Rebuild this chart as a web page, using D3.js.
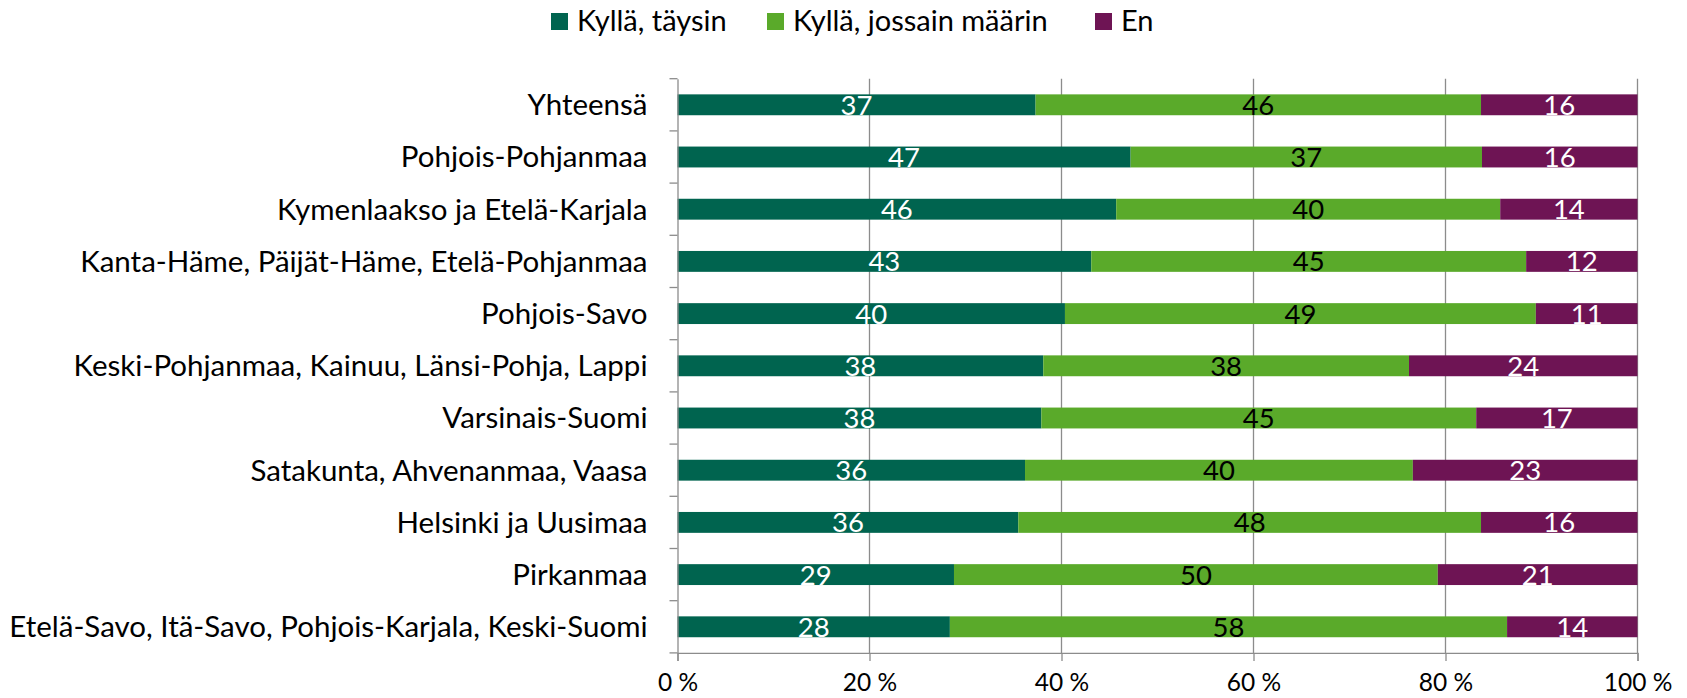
<!DOCTYPE html>
<html>
<head>
<meta charset="utf-8">
<script src="https://cdn.jsdelivr.net/npm/d3@7"></script>
<style>
  html, body { margin: 0; padding: 0; background: #fff; }
  svg text { font-family: Lato, "Open Sans", sans-serif; }
</style>
</head>
<body>
<div id="chart"></div>
<script>
let categories = [
  "Yhteensä",
  "Pohjois-Pohjanmaa",
  "Kymenlaakso ja Etelä-Karjala",
  "Kanta-Häme, Päijät-Häme, Etelä-Pohjanmaa",
  "Pohjois-Savo",
  "Keski-Pohjanmaa, Kainuu, Länsi-Pohja, Lappi",
  "Varsinais-Suomi",
  "Satakunta, Ahvenanmaa, Vaasa",
  "Helsinki ja Uusimaa",
  "Pirkanmaa",
  "Etelä-Savo, Itä-Savo, Pohjois-Karjala, Keski-Suomi"
];
let kyllaTaysin = [37.3, 47.2, 45.7, 43.1, 40.4, 38.1, 37.9, 36.2, 35.5, 28.8, 28.4];
let kyllaJossain = [46.4, 36.6, 40.0, 45.3, 49.1, 38.1, 45.3, 40.4, 48.2, 50.4, 58.1];
let en = [16.3, 16.2, 14.3, 11.6, 10.6, 23.8, 16.8, 23.4, 16.3, 20.8, 13.6];
let seriesNames = ["Kyllä, täysin", "Kyllä, jossain määrin", "En"];
let xTicks = [0, 0.2, 0.4, 0.6, 0.8, 1];

let colors = ["#00644f", "#5aaa2a", "#6e1454"];
let labelColors = ["#fff", "#000", "#fff"];

let width = 1687;
let height = 698;
let plotLeft = 677.5;
let plotRight = 1637.5;
let plotTop = 78.7;
let plotBottom = 652.9;
let labelSize = 29.5;
let legendSize = 29;
let valueSize = 27.5;
let tickSize = 24.5;

let rows = categories.map(function (c, i) {
  return { cat: c, s0: kyllaTaysin[i], s1: kyllaJossain[i], s2: en[i] };
});
let keys = ["s0", "s1", "s2"];
let stack = d3.stack().keys(keys).offset(d3.stackOffsetExpand);
let stacked = stack(rows);

let xScale = d3.scaleLinear().domain([0, 1]).range([plotLeft, plotRight]);
let yScale = d3.scaleBand().domain(categories).range([plotTop, plotBottom])
  .paddingInner(0.6).paddingOuter(0.3);

let svg = d3.select("#chart").append("svg")
  .attr("width", width).attr("height", height);

// gridlines
svg.append("g").selectAll("line").data(xTicks.slice(1)).join("line")
  .attr("x1", d => xScale(d)).attr("x2", d => xScale(d))
  .attr("y1", plotTop).attr("y2", plotBottom)
  .attr("stroke", "#8c8c8c").attr("stroke-width", 1.3);

// bars
let layers = svg.append("g").selectAll("g").data(stacked).join("g")
  .attr("fill", (d, i) => colors[i]);
layers.selectAll("rect").data(d => d).join("rect")
  .attr("x", d => xScale(d[0]))
  .attr("width", d => xScale(d[1]) - xScale(d[0]))
  .attr("y", d => yScale(d.data.cat))
  .attr("height", yScale.bandwidth());

// value labels
stacked.forEach(function (layer, li) {
  svg.append("g").selectAll("text").data(layer).join("text")
    .attr("x", d => (xScale(d[0]) + xScale(d[1])) / 2)
    .attr("y", d => yScale(d.data.cat) + yScale.bandwidth() / 2 + 10)
    .attr("text-anchor", "middle")
    .attr("font-size", valueSize)
    .attr("fill", labelColors[li])
    .text(d => Math.round(d.data[keys[li]]));
});

// x axis
let xAxis = d3.axisBottom(xScale).tickValues(xTicks).tickSize(8)
  .tickFormat(d => Math.round(d * 100) + " %");
let gx = svg.append("g").attr("transform", "translate(0," + plotBottom + ")").call(xAxis);
gx.select(".domain").attr("stroke", "#8c8c8c").attr("stroke-width", 1.3);
gx.selectAll(".tick line").attr("stroke", "#8c8c8c").attr("stroke-width", 1.3);
gx.selectAll(".tick text").attr("font-size", tickSize).attr("fill", "#000")
  .attr("y", 38.5).attr("dy", 0)
  .attr("font-family", "Lato, 'Open Sans', sans-serif");

// y axis
let step = yScale.step();
let yAxis = d3.axisLeft(yScale).tickSize(0).tickPadding(30);
let gy = svg.append("g").attr("transform", "translate(" + plotLeft + ",0)").call(yAxis);
gy.select(".domain").attr("stroke", "#8c8c8c").attr("stroke-width", 1.3);
gy.selectAll(".tick text").attr("font-size", labelSize).attr("fill", "#000")
  .attr("dy", "0.35em")
  .attr("font-family", "Lato, 'Open Sans', sans-serif");
let bounds = categories.map(c => yScale(c) + yScale.bandwidth() / 2 - step / 2);
bounds.push(bounds[bounds.length - 1] + step);
svg.append("g").selectAll("line").data(bounds).join("line")
  .attr("x1", plotLeft - 8).attr("x2", plotLeft)
  .attr("y1", d => d).attr("y2", d => d)
  .attr("stroke", "#8c8c8c").attr("stroke-width", 1.3);

// legend
let legendX = [551, 767, 1095];
let legend = svg.append("g").selectAll("g").data(seriesNames).join("g")
  .attr("transform", (d, i) => "translate(" + legendX[i] + ",13)");
legend.append("rect").attr("width", 17).attr("height", 17)
  .attr("fill", (d, i) => colors[i]);
legend.append("text").attr("x", 26).attr("y", 18)
  .attr("font-size", legendSize).attr("fill", "#000")
  .text(d => d);
</script>
</body>
</html>
